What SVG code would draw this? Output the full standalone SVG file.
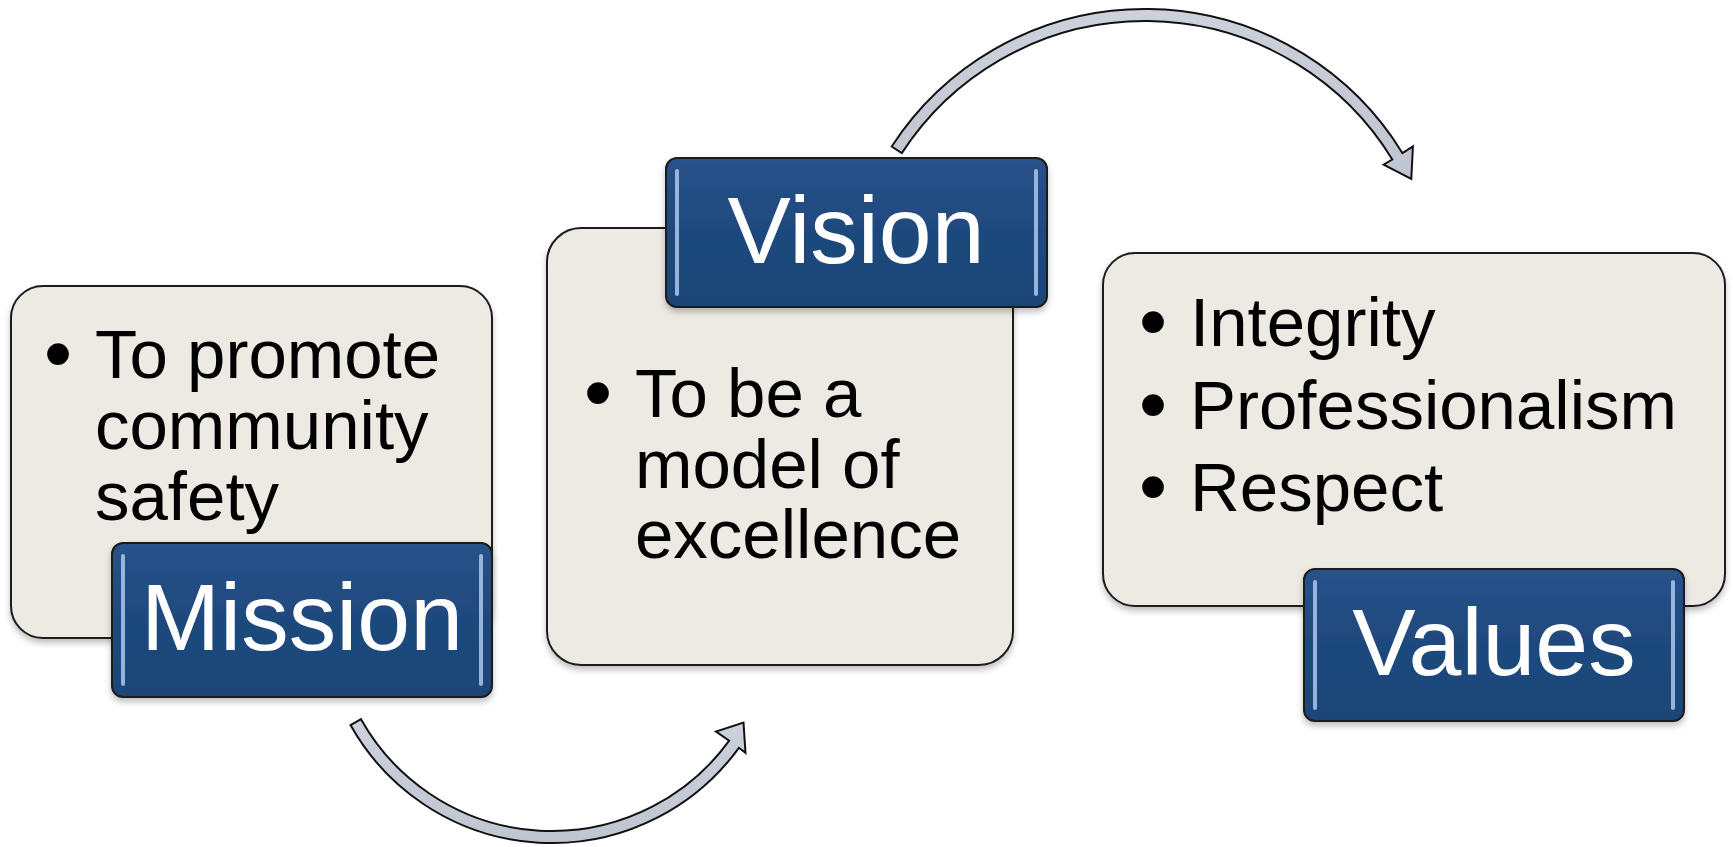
<svg xmlns="http://www.w3.org/2000/svg" width="1733" height="847" viewBox="0 0 1733 847">
  <defs>
    <filter id="shadow" x="-10%" y="-10%" width="120%" height="130%">
      <feDropShadow dx="0" dy="4" stdDeviation="3" flood-color="#000" flood-opacity="0.25"/>
    </filter>
    <filter id="soft" x="-50%" y="-10%" width="200%" height="120%">
      <feGaussianBlur stdDeviation="1.2"/>
    </filter>
    <linearGradient id="darkGrad" x1="0" y1="0" x2="0" y2="1">
      <stop offset="0" stop-color="#27528a"/>
      <stop offset="0.5" stop-color="#1f497d"/>
      <stop offset="1" stop-color="#1d4577"/>
    </linearGradient>
    <linearGradient id="arrowGrad" x1="0" y1="0" x2="0" y2="1">
      <stop offset="0" stop-color="#ccd1dc"/>
      <stop offset="1" stop-color="#bfc5d1"/>
    </linearGradient>
  </defs>
  <style>
    .light { fill: #eceae2; stroke: #1c1c1c; stroke-width: 2; }
    .dark { fill: url(#darkGrad); stroke: #1a1a1a; stroke-width: 2; }
    .glow { stroke: #ffffff; stroke-width: 5; stroke-linecap: round; opacity: 0.95; fill: none; }
    .bevel { stroke: #a4c0e6; stroke-width: 4; stroke-linecap: round; opacity: 0.9; fill: none; }
    .body { font-family: "Liberation Sans", Arial, sans-serif; font-size: 69px; fill: #000; }
    .bullet { font-family: "Liberation Sans", Arial, sans-serif; font-size: 80px; fill: #000; text-anchor: middle; }
    .title { font-family: "Liberation Sans", Arial, sans-serif; font-size: 95px; fill: #fff; text-anchor: middle; }
    .arrow { fill: url(#arrowGrad); stroke: #111; stroke-width: 2; stroke-linejoin: miter; }
  </style>
  <rect width="1733" height="847" fill="#ffffff"/>

  <g id="connectors">
    <path class="arrow" d="M 350.5 725.1 A 231 231 0 0 0 738.9 747.8 L 745.5 752.9 L 743.5 722.5 L 716 731.5 L 729.2 740.7 A 219 219 0 0 1 361 719.2 Z"/>
    <path class="arrow" d="M 891.7 146.5 A 302 302 0 0 1 1402.5 153.2 L 1412.9 146.5 L 1411.3 179 L 1383.6 164.7 L 1392.3 159.5 A 290 290 0 0 0 901.8 153.1 Z"/>
  </g>

  <g id="mission">
    <rect class="light" x="11" y="286" width="481" height="352" rx="32" filter="url(#shadow)"/>
    <line class="glow" x1="22" y1="316" x2="22" y2="608" filter="url(#soft)"/>
    <line class="glow" x1="481" y1="316" x2="481" y2="608" filter="url(#soft)"/>
    <text class="bullet" x="58" y="381">•</text>
    <text class="body" x="95" y="378">To promote</text>
    <text class="body" x="95" y="449">community</text>
    <text class="body" x="95" y="520">safety</text>
    <rect class="dark" x="112" y="543" width="380" height="154" rx="11" filter="url(#shadow)"/>
    <line class="bevel" x1="123" y1="556" x2="123" y2="684"/>
    <line class="bevel" x1="481" y1="556" x2="481" y2="684"/>
    <text class="title" x="302" y="650">Mission</text>
  </g>

  <g id="vision">
    <rect class="light" x="547" y="228" width="466" height="437" rx="34" filter="url(#shadow)"/>
    <line class="glow" x1="558" y1="262" x2="558" y2="631" filter="url(#soft)"/>
    <line class="glow" x1="1002" y1="262" x2="1002" y2="631" filter="url(#soft)"/>
    <text class="bullet" x="598" y="420">•</text>
    <text class="body" x="635" y="417">To be a</text>
    <text class="body" x="635" y="488">model of</text>
    <text class="body" x="635" y="558">excellence</text>
    <rect class="dark" x="666" y="158" width="381" height="149" rx="11" filter="url(#shadow)"/>
    <line class="bevel" x1="677" y1="171" x2="677" y2="294"/>
    <line class="bevel" x1="1036" y1="171" x2="1036" y2="294"/>
    <text class="title" x="856" y="263">Vision</text>
  </g>

  <g id="values">
    <rect class="light" x="1103" y="253" width="622" height="353" rx="32" filter="url(#shadow)"/>
    <line class="glow" x1="1114" y1="284" x2="1114" y2="575" filter="url(#soft)"/>
    <line class="glow" x1="1714" y1="284" x2="1714" y2="575" filter="url(#soft)"/>
    <text class="bullet" x="1153" y="349">•</text>
    <text class="body" x="1190" y="346">Integrity</text>
    <text class="bullet" x="1153" y="432">•</text>
    <text class="body" x="1190" y="429">Professionalism</text>
    <text class="bullet" x="1153" y="514">•</text>
    <text class="body" x="1190" y="511">Respect</text>
    <rect class="dark" x="1304" y="569" width="380" height="152" rx="11" filter="url(#shadow)"/>
    <line class="bevel" x1="1315" y1="582" x2="1315" y2="708"/>
    <line class="bevel" x1="1673" y1="582" x2="1673" y2="708"/>
    <text class="title" x="1494" y="675">Values</text>
  </g>
</svg>
